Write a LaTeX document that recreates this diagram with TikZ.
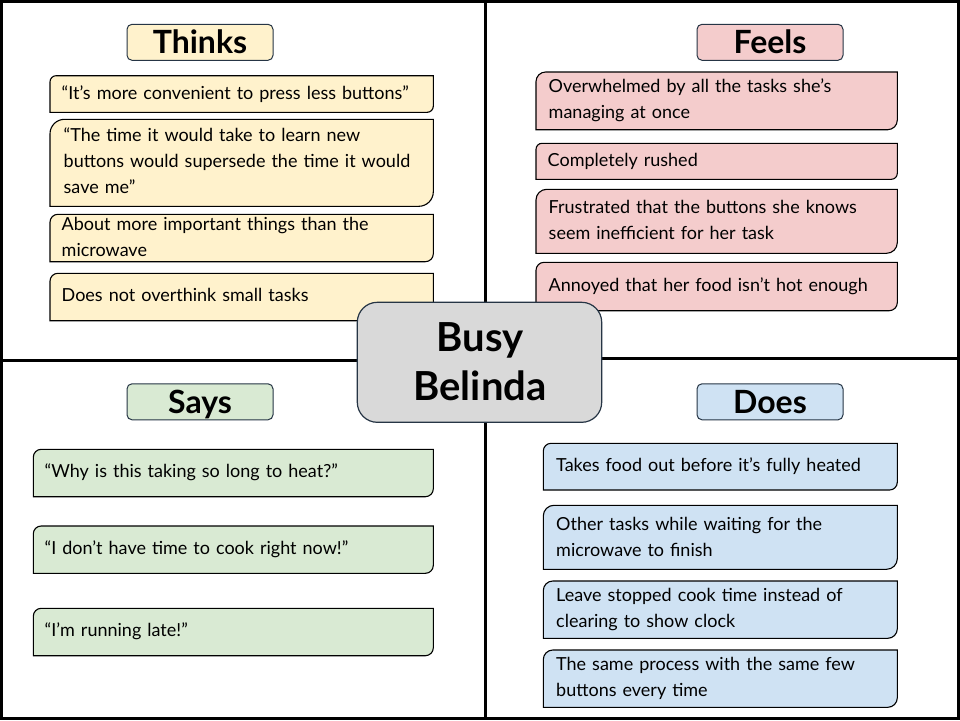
\documentclass[tikz,border=0pt]{standalone}
\usepackage{fontspec}
\setmainfont{Lato}
\begin{document}
\definecolor{thinkfill}{HTML}{FFF2CC}
\definecolor{feelfill}{HTML}{F4CCCC}
\definecolor{sayfill}{HTML}{D9EAD3}
\definecolor{dofill}{HTML}{CFE2F3}
\definecolor{centerfill}{HTML}{D9D9D9}
\definecolor{hdrline}{HTML}{263545}
\tikzset{
  boxbase/.style={rectangle, inner sep=0pt, outer sep=0pt},
  itemline/.style={draw=black, line width=1.1pt},
  hdr/.style={rectangle, draw=hdrline, line width=1pt, rounded corners=5pt,
    minimum width=146pt, minimum height=36pt, inner sep=0pt,
    font=\bfseries\fontsize{32}{32}\selectfont, text height=22.5pt, text depth=0pt},
  txt/.style={anchor=base west, inner sep=0pt, text width=400pt, align=left,
    font=\fontsize{18}{26}\selectfont},
  divider/.style={line width=3pt, black},
}
% box with rounded top-left and bottom-right corners
% #1 name, #2 fill, #3 x1, #4 y1, #5 x2, #6 y2
\newcommand\itembox[6]{%
  \node[boxbase, minimum width={#5-#3}, minimum height={#6-#4}, anchor=north west] (#1) at (#3,#4) {};
  \pgfmathsetmacro\cornr{0.1667*(#6-#4)}%
  \draw[itemline, fill=#2] (#1.north east) -- ([yshift=\cornr pt]#1.south east)
    arc[start angle=0, end angle=-90, radius=\cornr pt] -- (#1.south west)
    -- ([yshift=-\cornr pt]#1.north west)
    arc[start angle=180, end angle=90, radius=\cornr pt] -- cycle;
}
\begin{tikzpicture}[x=1pt, y=-1pt]
\useasboundingbox (0,0) rectangle (960,720);
\fill[white] (0,0) rectangle (960,720);

% quadrant dividers and frame
\coordinate (vtop) at (485.5,0);
\coordinate (vbot) at (485.5,720);
\coordinate (hl) at (0,360);
\coordinate (hm) at (485.5,360);
\coordinate (hm2) at (485.5,358.5);
\coordinate (hr) at (960,358.5);
\draw[divider] (vtop) -- (vbot);
\draw[divider] (hl) -- (hm);
\draw[divider] (hm2) -- (hr);
\draw[divider] (1.5,1.5) rectangle (958.5,718.5);

% Thinks
\node[hdr, fill=thinkfill] (hThinks) at (200,42.3) {Thinks};
\itembox{bT1}{thinkfill}{50}{75.7}{433.3}{112.3}
\itembox{bT2}{thinkfill}{50}{119.3}{433.3}{206.3}
\itembox{bT3}{thinkfill}{50}{214.3}{433.3}{261.7}
\itembox{bT4}{thinkfill}{50}{273.3}{433.3}{320.7}
\node[txt] (tT1) at (61.5,99) {“It’s more convenient to press less buttons”};
\node[txt] (tT2) at (63.5,141.7) {“The time it would take to learn new\\buttons would supersede the time it would\\save me”};
\node[txt] (tT3) at (61.5,230) {About more important things than the\\microwave};
\node[txt] (tT4) at (61.5,301.7) {Does not overthink small tasks};

% Feels
\node[hdr, fill=feelfill] (hFeels) at (770,42.3) {Feels};
\itembox{bF1}{feelfill}{536}{72}{897.3}{129.7}
\itembox{bF2}{feelfill}{536}{143.3}{897.3}{179.3}
\itembox{bF3}{feelfill}{536}{189.3}{897.3}{253.3}
\itembox{bF4}{feelfill}{536}{262.3}{897.3}{310.7}
\node[txt] (tF1) at (548.5,92.3) {Overwhelmed by all the tasks she’s\\managing at once};
\node[txt] (tF2) at (547.5,166) {Completely rushed};
\node[txt] (tF3) at (548.5,213.3) {Frustrated that the buttons she knows\\seem inefficient for her task};
\node[txt] (tF4) at (548.5,291) {Annoyed that her food isn’t hot enough};

% Says
\node[hdr, fill=sayfill] (hSays) at (200,401.8) {Says};
\itembox{bS1}{sayfill}{33.3}{449.3}{433.3}{496.7}
\itembox{bS2}{sayfill}{33.3}{526}{433.3}{573.3}
\itembox{bS3}{sayfill}{33.3}{608.3}{433.3}{655.7}
\node[txt] (tS1) at (44.5,477.3) {“Why is this taking so long to heat?”};
\node[txt] (tS2) at (44.5,554.3) {“I don’t have time to cook right now!”};
\node[txt] (tS3) at (44.5,636.7) {“I’m running late!”};

% Does
\node[hdr, fill=dofill] (hDoes) at (770,401.8) {Does};
\itembox{bD1}{dofill}{543.3}{443.3}{897.3}{490}
\itembox{bD2}{dofill}{543.3}{505.3}{897.3}{569.3}
\itembox{bD3}{dofill}{543.3}{581}{897.3}{638.3}
\itembox{bD4}{dofill}{543.3}{650}{897.3}{707.3}
\node[txt] (tD1) at (556,471.7) {Takes food out before it’s fully heated};
\node[txt] (tD2) at (556,530) {Other tasks while waiting for the\\microwave to finish};
\node[txt] (tD3) at (556,601.7) {Leave stopped cook time instead of\\clearing to show clock};
\node[txt] (tD4) at (556,670.7) {The same process with the same few\\buttons every time};

% persona in the middle
\node[rectangle, draw=hdrline, line width=1.2pt, fill=centerfill, rounded corners=20pt,
  minimum width=244.4pt, minimum height=120pt, inner sep=0pt] (persona) at (479.5,362.3) {};
\node[anchor=base, inner sep=0pt, text width=240pt, align=center,
  font=\bfseries\fontsize{40}{49}\selectfont] (personaName) at (480,351.5) {Busy\\Belinda};
\end{tikzpicture}
\end{document}
